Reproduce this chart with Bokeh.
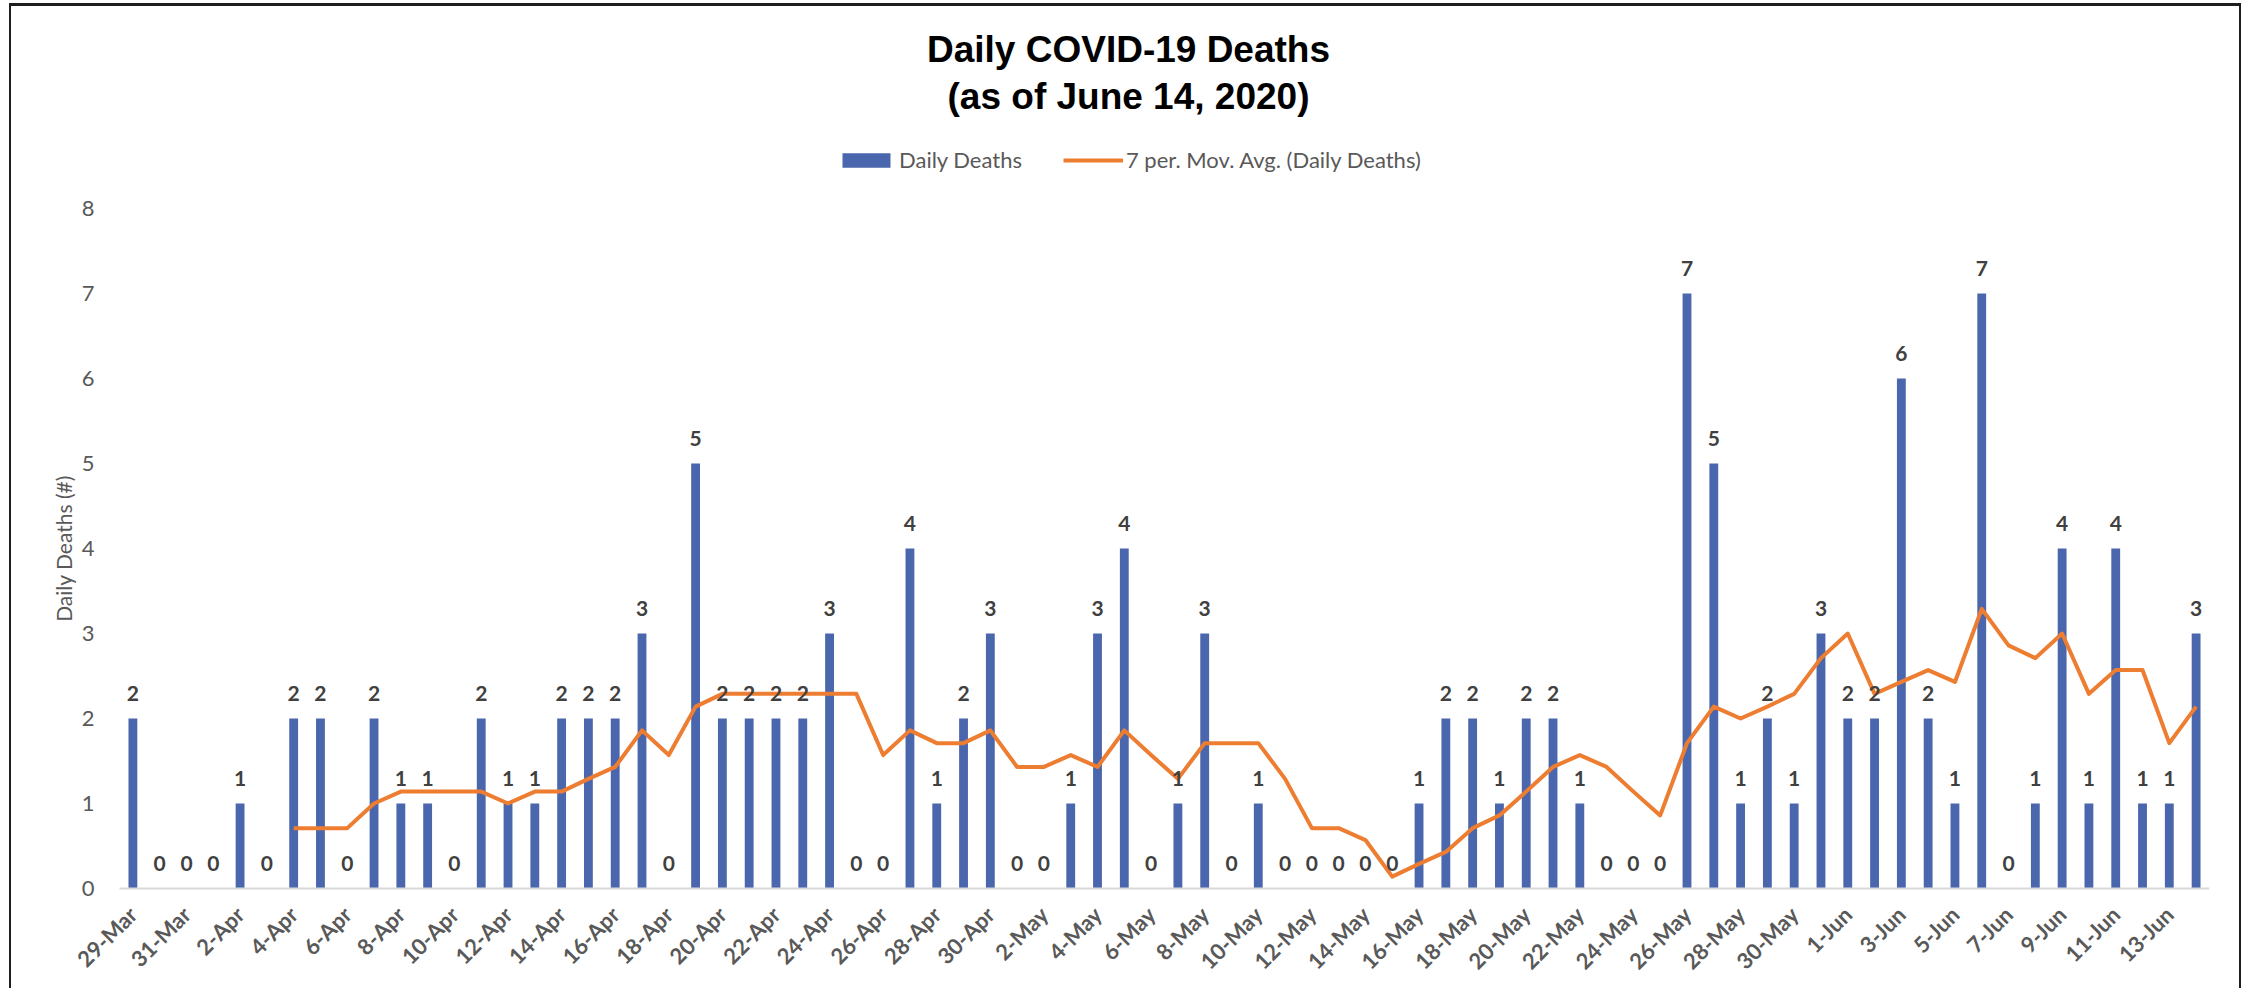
import math
from bokeh.plotting import figure
from bokeh.models import Range1d, FixedTicker, Label, Legend, LegendItem
from bokeh.core.properties import value
from bokeh.embed import file_html
from bokeh.resources import INLINE

dates = [
    "29-Mar", "30-Mar", "31-Mar", "1-Apr", "2-Apr", "3-Apr", "4-Apr", "5-Apr", "6-Apr", "7-Apr",
    "8-Apr", "9-Apr", "10-Apr", "11-Apr", "12-Apr", "13-Apr", "14-Apr", "15-Apr", "16-Apr", "17-Apr",
    "18-Apr", "19-Apr", "20-Apr", "21-Apr", "22-Apr", "23-Apr", "24-Apr", "25-Apr", "26-Apr", "27-Apr",
    "28-Apr", "29-Apr", "30-Apr", "1-May", "2-May", "3-May", "4-May", "5-May", "6-May", "7-May",
    "8-May", "9-May", "10-May", "11-May", "12-May", "13-May", "14-May", "15-May", "16-May", "17-May",
    "18-May", "19-May", "20-May", "21-May", "22-May", "23-May", "24-May", "25-May", "26-May", "27-May",
    "28-May", "29-May", "30-May", "31-May", "1-Jun", "2-Jun", "3-Jun", "4-Jun", "5-Jun", "6-Jun",
    "7-Jun", "8-Jun", "9-Jun", "10-Jun", "11-Jun", "12-Jun", "13-Jun", "14-Jun",
]

deaths = [
    2, 0, 0, 0, 1, 0, 2, 2, 0, 2,
    1, 1, 0, 2, 1, 1, 2, 2, 2, 3,
    0, 5, 2, 2, 2, 2, 3, 0, 0, 4,
    1, 2, 3, 0, 0, 1, 3, 4, 0, 1,
    3, 0, 1, 0, 0, 0, 0, 0, 1, 2,
    2, 1, 2, 2, 1, 0, 0, 0, 7, 5,
    1, 2, 1, 3, 2, 2, 6, 2, 1, 7,
    0, 1, 4, 1, 4, 1, 1, 3,
]

# 7-period moving average (starts on the 7th day)
mov_avg = [
    None, None, None, None, None, None, 0.71, 0.71, 0.71, 1.00,
    1.14, 1.14, 1.14, 1.14, 1.00, 1.14, 1.14, 1.29, 1.43, 1.86,
    1.57, 2.14, 2.29, 2.29, 2.29, 2.29, 2.29, 2.29, 1.57, 1.86,
    1.71, 1.71, 1.86, 1.43, 1.43, 1.57, 1.43, 1.86, 1.57, 1.29,
    1.71, 1.71, 1.71, 1.29, 0.71, 0.71, 0.57, 0.14, 0.29, 0.43,
    0.71, 0.86, 1.14, 1.43, 1.57, 1.43, 1.14, 0.86, 1.71, 2.14,
    2.00, 2.14, 2.29, 2.71, 3.00, 2.29, 2.43, 2.57, 2.43, 3.29,
    2.86, 2.71, 3.00, 2.29, 2.57, 2.57, 1.71, 2.14,
]

y_ticks = [0, 1, 2, 3, 4, 5, 6, 7, 8]
y_axis_max = 8

title_line1 = "Daily COVID-19 Deaths"
title_line2 = "(as of June 14, 2020)"
bar_name = "Daily Deaths"
line_name = "7 per. Mov. Avg. (Daily Deaths)"
y_title = "Daily Deaths (#)"

BLUE = "#4A66AC"
ORANGE = "#ED7D31"
GREY = "#595959"
DARK = "#404040"

idx = list(range(len(dates)))
tick_idx = idx[::2]
n = len(dates)

# geometry (px): the frame covers the whole chart area so that headings,
# legend, axis title and axes (drawn at fixed locations) all sit inside it.
W, H = 2232, 985
MB_R = 34
axis_gap = 108            # px between frame left edge and first category slot
plot_bottom = 882         # px from top where the value 0 sits
frame_w = W - MB_R
px_per_cat = (frame_w - axis_gap) / n
x_start = -0.5 - axis_gap / px_per_cat
px_per_unit = 85.0
y_top = plot_bottom / px_per_unit
y_bottom = -(H - plot_bottom) / px_per_unit

p = figure(
    width=W, height=H,
    output_backend="svg", toolbar_location=None,
    x_range=Range1d(x_start, n - 0.5),
    y_range=Range1d(y_bottom, y_top),
    min_border_left=0, min_border_right=MB_R,
    min_border_top=0, min_border_bottom=0,
)
p.styles = {
    "margin-left": "9px",
    "margin-top": "3px",
    "border-top": "3px solid #1e1e1e",
    "border-left": "2px solid #1e1e1e",
    "border-right": "2px solid #1e1e1e",
}
p.outline_line_color = None
p.xgrid.visible = False
p.ygrid.visible = False
p.background_fill_color = "white"
p.border_fill_color = "white"

bars = p.vbar(x=idx, top=deaths, width=0.33, fill_color=BLUE, line_color=None)

ma_x = [i for i, v in zip(idx, mov_avg) if v is not None]
ma_y = [v for v in mov_avg if v is not None]
line = p.line(x=ma_x, y=ma_y, line_color=ORANGE, line_width=4, line_join="round")

p.text(
    x=idx, y=deaths, text=[str(v) for v in deaths],
    text_align="center", text_baseline="bottom", y_offset=-18,
    text_font=value("Lato"), text_font_style="bold",
    text_font_size="21px", text_color=DARK,
)

# X axis (drawn at value 0)
xa = p.xaxis[0]
xa.fixed_location = 0
xa.bounds = (-0.5, n - 0.5)
xa.ticker = FixedTicker(ticks=tick_idx)
xa.major_label_overrides = {i: dates[i] for i in tick_idx}
xa.major_label_orientation = math.pi / 4
xa.major_label_text_font = "Lato"
xa.major_label_text_font_style = "bold"
xa.major_label_text_font_size = "22px"
xa.major_label_text_color = GREY
xa.axis_line_color = "#D9D9D9"
xa.axis_line_width = 2
xa.major_tick_line_color = None
xa.minor_tick_line_color = None
xa.major_tick_out = 0
xa.major_label_standoff = 22

# Y axis (drawn at the left edge of the category area)
ya = p.yaxis[0]
ya.fixed_location = -0.5
ya.bounds = (0, y_axis_max)
ya.ticker = FixedTicker(ticks=y_ticks)
ya.major_label_text_font = "Lato"
ya.major_label_text_font_size = "22px"
ya.major_label_text_color = GREY
ya.axis_line_color = None
ya.major_tick_line_color = None
ya.minor_tick_line_color = None
ya.major_tick_out = 0
ya.major_label_standoff = 25

p.add_layout(Label(
    x=50, y=y_axis_max / 2, x_units="canvas", y_units="data", text=y_title,
    angle=math.pi / 2, text_align="center", text_baseline="middle",
    text_font="Lato", text_font_size="21px", text_color=GREY,
))

legend = Legend(
    items=[LegendItem(label=bar_name, renderers=[bars]),
           LegendItem(label=line_name, renderers=[line])],
    orientation="horizontal", location=(825, 818),
    glyph_width=60, glyph_height=18, label_standoff=3, spacing=41,
    padding=0, margin=0, border_line_color=None, background_fill_alpha=0,
    label_text_font="Lato", label_text_font_size="22px", label_text_color=GREY,
)
p.add_layout(legend)

for txt, cy in ((title_line1, 39.5), (title_line2, 87)):
    p.add_layout(Label(
        x=1115, y=cy, x_units="canvas", y_units="canvas", text=txt,
        text_align="center", text_baseline="middle",
        text_font="Liberation Sans", text_font_style="bold",
        text_font_size="37px", text_color="black",
    ))

open("out.html", "w").write(file_html(p, INLINE))
